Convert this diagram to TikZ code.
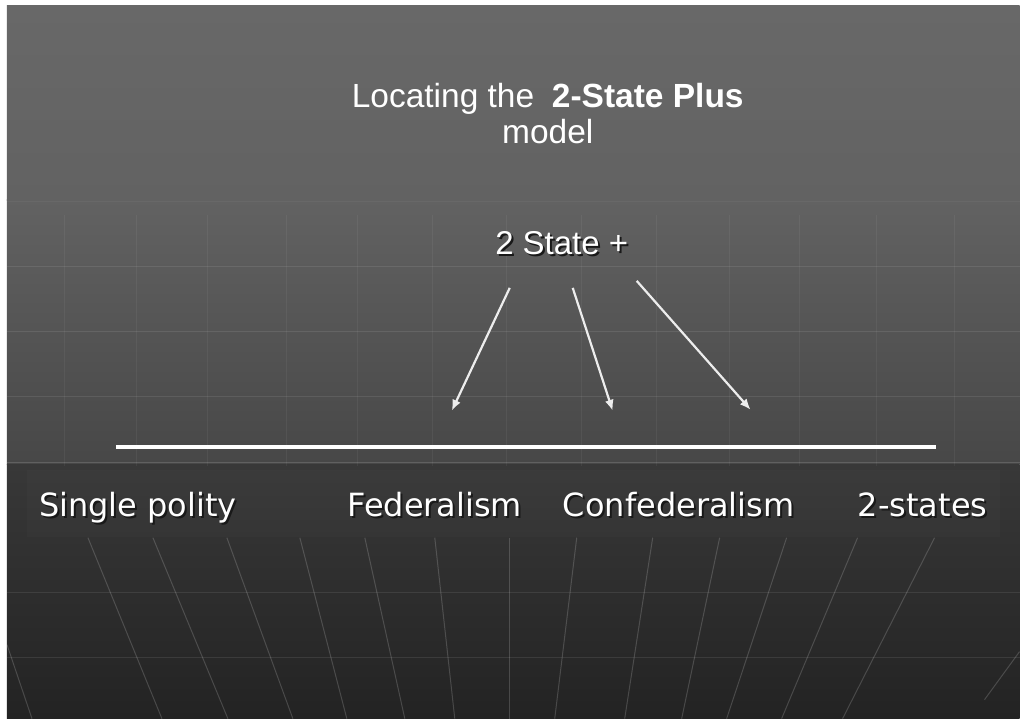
\documentclass[tikz,border=0pt]{standalone}
\usepackage{fontspec}
\setmainfont{Liberation Sans}
\newfontfamily\widesans{DejaVu Sans}
\usetikzlibrary{arrows.meta}

\definecolor{bgtop}{HTML}{686868}
\definecolor{bgupper}{HTML}{626262}
\definecolor{bgmid}{HTML}{474747}
\definecolor{bglow}{HTML}{383838}
\definecolor{bgbot}{HTML}{232323}
\definecolor{arrowgray}{HTML}{EDEDED}

\begin{document}
\begin{tikzpicture}[%
    x=1pt, y=-1pt,
    title/.style={
      text=white,
      align=center,
      font=\fontsize{33.5}{36}\selectfont,
      inner sep=0pt
    },
    scale label/.style={
      text=white,
      font=\widesans\fontsize{32}{36}\selectfont,
      anchor=base,
      inner sep=0pt
    },
    label shadow/.style={
      text=black!90,
      anchor=base,
      inner sep=0pt
    },
    line/.style={
      draw=arrowgray,
      line width=2.2pt,
      -{Latex[length=11pt,width=9pt]}
    },
    axis/.style={
      draw=white,
      line width=3.5pt
    },
    grid/.style={
      draw=white,
      opacity=0.09,
      line width=1pt
    }
  ]
    % slide background
    \fill[white] (0,0) rectangle (1020,719);
    \shade[top color=bgtop, bottom color=bgupper] (7,6) rectangle (1020,201);
    \shade[top color=bgupper, bottom color=bgmid] (7,200) rectangle (1020,465);
    \shade[top color=bglow, bottom color=bgbot] (7,465) rectangle (1020,719);
    \fill[white, opacity=0.015] (27,470) rectangle (1000,537);

    % faint globe grid
    \draw[grid, opacity=0.04] (7,202) -- (1020,202);
    \foreach \y in {267,332,397,593,658}
      \draw[grid] (7,\y) -- (1020,\y);
    \draw[grid, opacity=0.14] (7,463) -- (1020,463);
    \foreach \x in {65,137,208,287,358,433,507,582,657,730,800,877,955}
      \draw[grid, opacity=0.05] (\x,215) -- (\x,466);
    \foreach \a/\b in {88/162,153/228,227/293,300/347,365/405,435/455,510/510,
                       577/555,653/625,720/682,787/727,858/782,935/843}
      \draw[grid, opacity=0.17] (\a,538) -- (\b,719);
    \draw[grid, opacity=0.17] (7,645) -- (32,719);
    \draw[grid, opacity=0.17] (1020,652) -- (985,700);

    \node[title, anchor=base] (heading) at (548,144)
      {Locating the\hspace{0.25em} \textbf{2-State Plus}\\model};

    \node[label shadow, font=\fontsize{33}{36}\selectfont] (twostate-sh) at (564,257) {2 State +};
    \node[scale label, font=\fontsize{33}{36}\selectfont] (twostate) at (562,255) {2 State +};

    % the scale
    \coordinate (axis-l) at (116,447);
    \coordinate (axis-r) at (936,447);
    \draw[axis] (axis-l) -- (axis-r);

    \foreach \name/\x/\txt in {single/138/Single polity, fed/435/Federalism,
                              confed/679/Confederalism, twostates/923/2-states} {
      \node[label shadow, font=\widesans\fontsize{32}{36}\selectfont] (\name-sh) at (\x+2,519) {\txt};
      \node[scale label] (\name) at (\x,517) {\txt};
    }

    % where the model sits
    \coordinate (f-tail) at (510,288);
    \coordinate (f-head) at (452,411);
    \coordinate (c-tail) at (573,288);
    \coordinate (c-head) at (613,411);
    \coordinate (t-tail) at (637,281);
    \coordinate (t-head) at (751,410);
    \draw[line] (f-tail) -- (f-head);
    \draw[line] (c-tail) -- (c-head);
    \draw[line] (t-tail) -- (t-head);
  \end{tikzpicture}
\end{document}
